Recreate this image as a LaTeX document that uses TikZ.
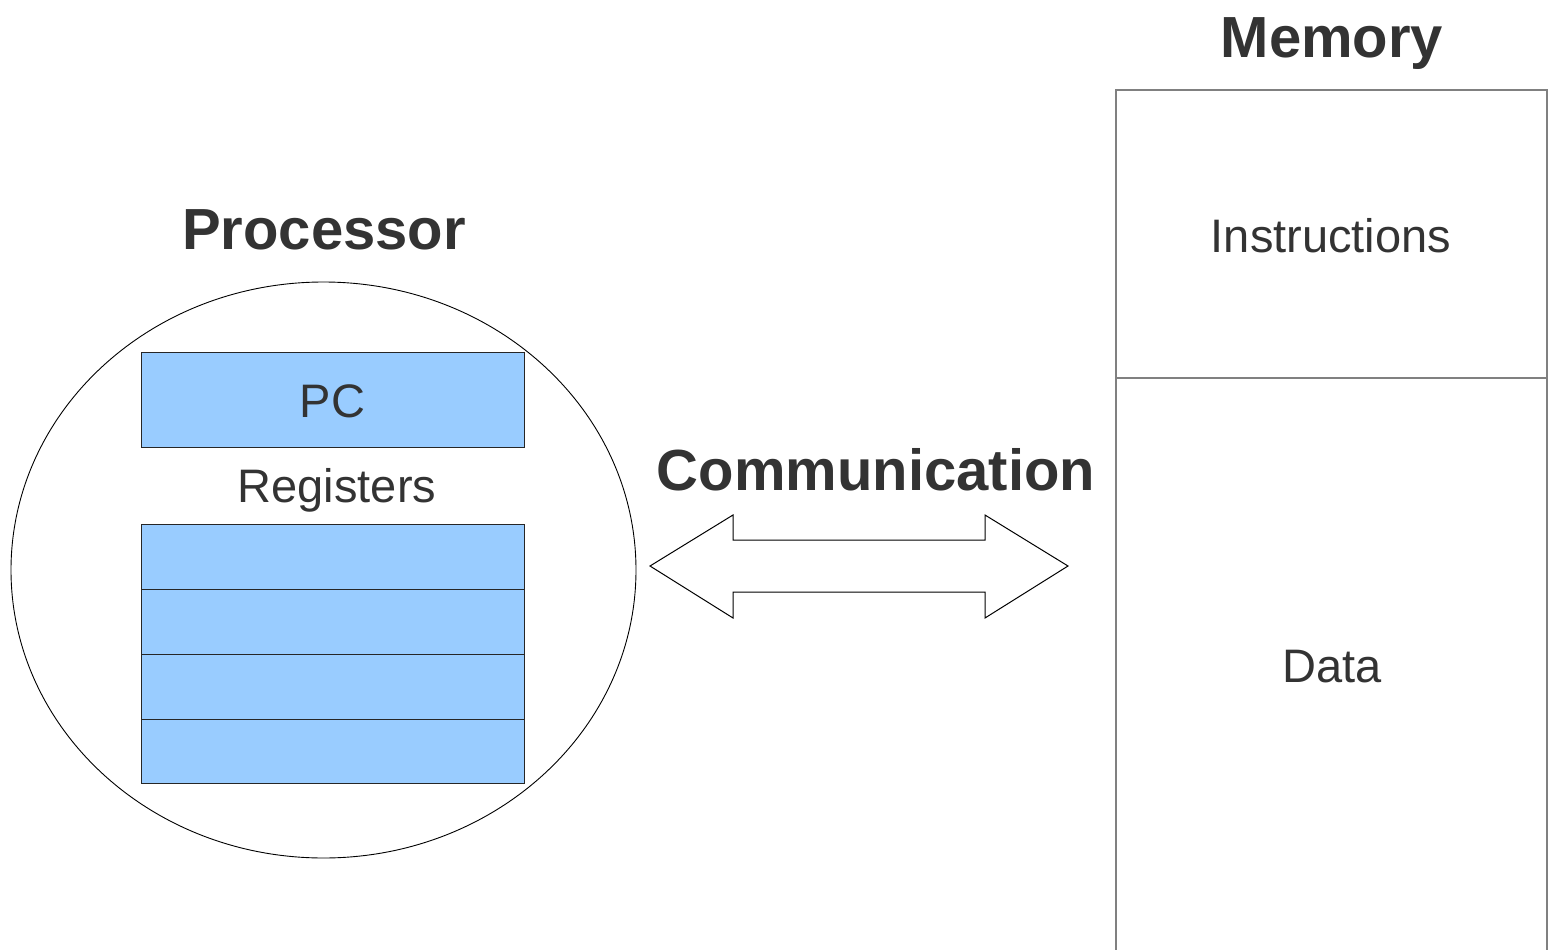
\documentclass[tikz,border=0pt]{standalone}
\usepackage{fontspec}
\setmainfont{Liberation Sans}
\usetikzlibrary{shapes.geometric}
\definecolor{txt}{HTML}{333333}
\definecolor{regfill}{HTML}{99CCFF}
\definecolor{memline}{HTML}{808080}
\tikzset{
  title/.style={font=\fontsize{58}{60}\selectfont\bfseries, text=txt, inner sep=0pt},
  label/.style={font=\fontsize{47}{50}\selectfont, text=txt, inner sep=0pt},
  regbox/.style={draw=black!85, fill=regfill, line width=1pt},
}
\begin{document}
\begin{tikzpicture}[x=1pt,y=-1pt]
\useasboundingbox (0,0) rectangle (1548,950);

% processor
\node[draw, ellipse, line width=0.9pt, minimum width=625, minimum height=576, inner sep=0pt] (cpu) at (323.5,570) {};
\node[title] (ptitle) at (324,230) {Processor};
\draw[regbox] (141,352) rectangle (524,447);
\node[label] (pc) at (332.5,401) {PC};
\node[label] (regs) at (337,490) {Registers};
\draw[regbox] (141,524) rectangle (524,589);
\draw[regbox] (141,589) rectangle (524,654);
\draw[regbox] (141,654) rectangle (524,719);
\draw[regbox] (141,719) rectangle (524,783);

% communication
\node[title] (ctitle) at (876,470) {Communication};
\draw[line width=1pt, line join=miter]
  (650,566) -- (733,515) -- (733,540) -- (985,540) -- (985,515) -- (1068,566)
  -- (985,618) -- (985,592) -- (733,592) -- (733,618) -- cycle;

% memory
\node[title] (mtitle) at (1332,44) {Memory};
\draw[memline, line width=1.5pt] (1116,960) -- (1116,90) -- (1547,90) -- (1547,960);
\draw[memline, line width=1.5pt] (1116,378) -- (1547,378);
\node[label] (instr) at (1331,236) {Instructions};
\node[label] (data) at (1332,667) {Data};
\end{tikzpicture}
\end{document}
